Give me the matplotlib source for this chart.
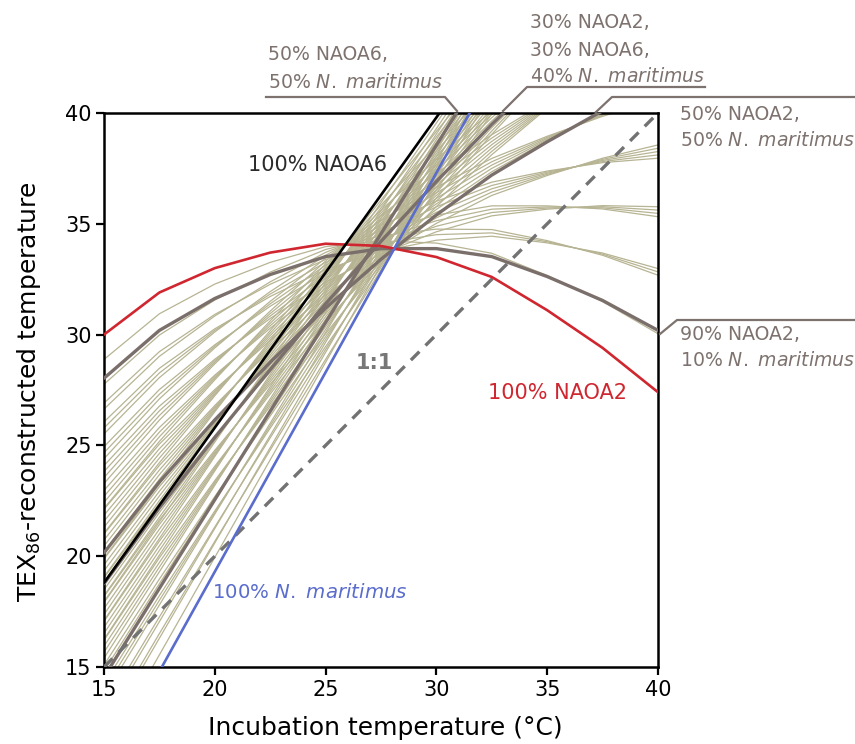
import matplotlib
matplotlib.use("Agg")
import matplotlib.pyplot as plt
from matplotlib.lines import Line2D

# ---------------- data ----------------
incubation_temp = [15, 17.5, 20, 22.5, 25, 27.5, 30, 32.5, 35, 37.5, 40]
axis_ticks = [15, 20, 25, 30, 35, 40]

red_naoa2 = [30.0, 31.9, 33.0, 33.7, 34.1, 34.0, 33.5, 32.6, 31.1, 29.4, 27.4]
black_naoa6 = [18.8, 22.3, 25.8, 29.3, 32.8, 36.3, 39.8, 43.3, 46.8, 50.3, 53.8]
blue_nmar = [10.3, 14.8, 19.3, 23.8, 28.3, 32.8, 37.3, 41.8, 46.3, 50.8, 55.3]
one_to_one = [15, 40]

# highlighted (grey) mixtures
gray_90naoa2_10nmar = [28.03, 30.19, 31.63, 32.71, 33.52, 33.88, 33.88, 33.52, 32.62, 31.54, 30.19]
gray_50naoa2_50nmar = [20.15, 23.35, 26.15, 28.75, 31.2, 33.4, 35.4, 37.2, 38.7, 40.1, 41.35]
gray_30_30_40 = [18.76, 22.18, 25.36, 28.42, 31.39, 34.21, 36.91, 39.49, 41.89, 44.23, 46.48]
gray_50naoa6_50nmar = [14.55, 18.55, 22.55, 26.55, 30.55, 34.55, 38.55, 42.55, 46.55, 50.55, 54.55]

# other mixtures (thin tan lines), grouped by NAOA2 share
mix_naoa2_90 = [
    [28.88, 30.94, 32.28, 33.26, 33.97, 34.23, 34.13, 33.67, 32.67, 31.49, 30.04],
]
mix_naoa2_80 = [
    [26.06, 28.48, 30.26, 31.72, 32.94, 33.76, 34.26, 34.44, 34.14, 33.68, 32.98],
    [26.91, 29.23, 30.91, 32.27, 33.39, 34.11, 34.51, 34.59, 34.19, 33.63, 32.83],
    [27.76, 29.98, 31.56, 32.82, 33.84, 34.46, 34.76, 34.74, 34.24, 33.58, 32.68],
]
mix_naoa2_70 = [
    [24.09, 26.77, 28.89, 30.73, 32.36, 33.64, 34.64, 35.36, 35.66, 35.82, 35.77],
    [24.94, 27.52, 29.54, 31.28, 32.81, 33.99, 34.89, 35.51, 35.71, 35.77, 35.62],
    [25.79, 28.27, 30.19, 31.83, 33.26, 34.34, 35.14, 35.66, 35.76, 35.72, 35.47],
    [26.64, 29.02, 30.84, 32.38, 33.71, 34.69, 35.39, 35.81, 35.81, 35.67, 35.32],
]
mix_naoa2_60 = [
    [22.12, 25.06, 27.52, 29.74, 31.78, 33.52, 35.02, 36.28, 37.18, 37.96, 38.56],
    [22.97, 25.81, 28.17, 30.29, 32.23, 33.87, 35.27, 36.43, 37.23, 37.91, 38.41],
    [23.82, 26.56, 28.82, 30.84, 32.68, 34.22, 35.52, 36.58, 37.28, 37.86, 38.26],
    [24.67, 27.31, 29.47, 31.39, 33.13, 34.57, 35.77, 36.73, 37.33, 37.81, 38.11],
    [25.52, 28.06, 30.12, 31.94, 33.58, 34.92, 36.02, 36.88, 37.38, 37.76, 37.96],
]
mix_naoa2_50 = [
    [21.0, 24.1, 26.8, 29.3, 31.65, 33.75, 35.65, 37.35, 38.75, 40.05, 41.2],
    [21.85, 24.85, 27.45, 29.85, 32.1, 34.1, 35.9, 37.5, 38.8, 40.0, 41.05],
    [22.7, 25.6, 28.1, 30.4, 32.55, 34.45, 36.15, 37.65, 38.85, 39.95, 40.9],
    [23.55, 26.35, 28.75, 30.95, 33.0, 34.8, 36.4, 37.8, 38.9, 39.9, 40.75],
    [24.4, 27.1, 29.4, 31.5, 33.45, 35.15, 36.65, 37.95, 38.95, 39.85, 40.6],
]
mix_naoa2_40 = [
    [18.18, 21.64, 24.78, 27.76, 30.62, 33.28, 35.78, 38.12, 40.22, 42.24, 44.14],
    [19.03, 22.39, 25.43, 28.31, 31.07, 33.63, 36.03, 38.27, 40.27, 42.19, 43.99],
    [19.88, 23.14, 26.08, 28.86, 31.52, 33.98, 36.28, 38.42, 40.32, 42.14, 43.84],
    [20.73, 23.89, 26.73, 29.41, 31.97, 34.33, 36.53, 38.57, 40.37, 42.09, 43.69],
    [21.58, 24.64, 27.38, 29.96, 32.42, 34.68, 36.78, 38.72, 40.42, 42.04, 43.54],
    [22.43, 25.39, 28.03, 30.51, 32.87, 35.03, 37.03, 38.87, 40.47, 41.99, 43.39],
    [23.28, 26.14, 28.68, 31.06, 33.32, 35.38, 37.28, 39.02, 40.52, 41.94, 43.24],
]
mix_naoa2_30 = [
    [16.21, 19.93, 23.41, 26.77, 30.04, 33.16, 36.16, 39.04, 41.74, 44.38, 46.93],
    [17.06, 20.68, 24.06, 27.32, 30.49, 33.51, 36.41, 39.19, 41.79, 44.33, 46.78],
    [17.91, 21.43, 24.71, 27.87, 30.94, 33.86, 36.66, 39.34, 41.84, 44.28, 46.63],
    [19.61, 22.93, 26.01, 28.97, 31.84, 34.56, 37.16, 39.64, 41.94, 44.18, 46.33],
    [20.46, 23.68, 26.66, 29.52, 32.29, 34.91, 37.41, 39.79, 41.99, 44.13, 46.18],
    [21.31, 24.43, 27.31, 30.07, 32.74, 35.26, 37.66, 39.94, 42.04, 44.08, 46.03],
    [22.16, 25.18, 27.96, 30.62, 33.19, 35.61, 37.91, 40.09, 42.09, 44.03, 45.88],
]
mix_naoa2_20 = [
    [14.24, 18.22, 22.04, 25.78, 29.46, 33.04, 36.54, 39.96, 43.26, 46.52, 49.72],
    [15.09, 18.97, 22.69, 26.33, 29.91, 33.39, 36.79, 40.11, 43.31, 46.47, 49.57],
    [15.94, 19.72, 23.34, 26.88, 30.36, 33.74, 37.04, 40.26, 43.36, 46.42, 49.42],
    [16.79, 20.47, 23.99, 27.43, 30.81, 34.09, 37.29, 40.41, 43.41, 46.37, 49.27],
    [17.64, 21.22, 24.64, 27.98, 31.26, 34.44, 37.54, 40.56, 43.46, 46.32, 49.12],
    [18.49, 21.97, 25.29, 28.53, 31.71, 34.79, 37.79, 40.71, 43.51, 46.27, 48.97],
    [19.34, 22.72, 25.94, 29.08, 32.16, 35.14, 38.04, 40.86, 43.56, 46.22, 48.82],
    [20.19, 23.47, 26.59, 29.63, 32.61, 35.49, 38.29, 41.01, 43.61, 46.17, 48.67],
    [21.04, 24.22, 27.24, 30.18, 33.06, 35.84, 38.54, 41.16, 43.66, 46.12, 48.52],
]
mix_naoa2_10 = [
    [12.27, 16.51, 20.67, 24.79, 28.88, 32.92, 36.92, 40.88, 44.78, 48.66, 52.51],
    [13.12, 17.26, 21.32, 25.34, 29.33, 33.27, 37.17, 41.03, 44.83, 48.61, 52.36],
    [13.97, 18.01, 21.97, 25.89, 29.78, 33.62, 37.42, 41.18, 44.88, 48.56, 52.21],
    [14.82, 18.76, 22.62, 26.44, 30.23, 33.97, 37.67, 41.33, 44.93, 48.51, 52.06],
    [15.67, 19.51, 23.27, 26.99, 30.68, 34.32, 37.92, 41.48, 44.98, 48.46, 51.91],
    [16.52, 20.26, 23.92, 27.54, 31.13, 34.67, 38.17, 41.63, 45.03, 48.41, 51.76],
    [17.37, 21.01, 24.57, 28.09, 31.58, 35.02, 38.42, 41.78, 45.08, 48.36, 51.61],
    [18.22, 21.76, 25.22, 28.64, 32.03, 35.37, 38.67, 41.93, 45.13, 48.31, 51.46],
    [19.07, 22.51, 25.87, 29.19, 32.48, 35.72, 38.92, 42.08, 45.18, 48.26, 51.31],
    [19.92, 23.26, 26.52, 29.74, 32.93, 36.07, 39.17, 42.23, 45.23, 48.21, 51.16],
]
mix_naoa2_00 = [
    [11.15, 15.55, 19.95, 24.35, 28.75, 33.15, 37.55, 41.95, 46.35, 50.75, 55.15],
    [12.0, 16.3, 20.6, 24.9, 29.2, 33.5, 37.8, 42.1, 46.4, 50.7, 55.0],
    [12.85, 17.05, 21.25, 25.45, 29.65, 33.85, 38.05, 42.25, 46.45, 50.65, 54.85],
    [13.7, 17.8, 21.9, 26.0, 30.1, 34.2, 38.3, 42.4, 46.5, 50.6, 54.7],
    [15.4, 19.3, 23.2, 27.1, 31.0, 34.9, 38.8, 42.7, 46.6, 50.5, 54.4],
    [16.25, 20.05, 23.85, 27.65, 31.45, 35.25, 39.05, 42.85, 46.65, 50.45, 54.25],
    [17.1, 20.8, 24.5, 28.2, 31.9, 35.6, 39.3, 43.0, 46.7, 50.4, 54.1],
    [17.95, 21.55, 25.15, 28.75, 32.35, 35.95, 39.55, 43.15, 46.75, 50.35, 53.95],
]

# ---------------- styling ----------------
FONT = "DejaVu Sans"
plt.rcParams["font.family"] = [FONT]
plt.rcParams["mathtext.fontset"] = "dejavusans"

TAN = "#b7b493"
GREY = "#7b6f6b"
NOTE = "#7d726e"
RED = "#d0262f"
BLUE = "#5a6ccc"
DASH = "#727272"

W, H = 855, 744
fig = plt.figure(figsize=(W / 100, H / 100), dpi=100)
L, R, T, B = 104, 658, 113, 667
ax = fig.add_axes([L / W, 1 - B / H, (R - L) / W, (B - T) / H])

def fx(px):
    return px / W

def fy(py):
    return 1 - py / H

for group in [mix_naoa2_90, mix_naoa2_80, mix_naoa2_70, mix_naoa2_60, mix_naoa2_50,
              mix_naoa2_40, mix_naoa2_30, mix_naoa2_20, mix_naoa2_10, mix_naoa2_00]:
    for ys in group:
        ax.plot(incubation_temp, ys, color=TAN, lw=0.9, zorder=2,
                solid_joinstyle="round")

for ys in [gray_90naoa2_10nmar, gray_50naoa2_50nmar, gray_30_30_40, gray_50naoa6_50nmar]:
    ax.plot(incubation_temp, ys, color=GREY, lw=2.4, zorder=3,
            solid_capstyle="round", solid_joinstyle="round")

ax.plot(one_to_one, one_to_one, color=DASH, lw=2.4, linestyle=(0, (3.6, 2.6)), zorder=4)
ax.plot(incubation_temp, red_naoa2, color=RED, lw=1.9, zorder=5, solid_joinstyle="round")
ax.plot(incubation_temp, blue_nmar, color=BLUE, lw=1.9, zorder=5)
ax.plot(incubation_temp, black_naoa6, color="black", lw=1.9, zorder=6)

ax.set_xlim(15, 40)
ax.set_ylim(15, 40)
ax.set_xticks(axis_ticks)
ax.set_yticks(axis_ticks)
ax.tick_params(direction="out", length=6, width=1.6, labelsize=15, pad=3, colors="black")
for s in ax.spines.values():
    s.set_linewidth(1.8)

fig.text(fx(385), fy(728), "Incubation temperature (°C)", ha="center", va="center",
         fontsize=18)
fig.text(fx(29), fy(392), "TEX$_{86}$-reconstructed temperature", ha="center", va="center",
         rotation=90, fontsize=18)

NM = r"$\mathit{N.}$ $\mathit{maritimus}$"

# in-plot labels
fig.text(fx(248), fy(165), "100% NAOA6", ha="left", va="center", fontsize=15, color="#2b2b2b")
fig.text(fx(374), fy(363), "1:1", ha="center", va="center", fontsize=15, color="#777777",
         fontweight="bold")
fig.text(fx(488), fy(393), "100% NAOA2", ha="left", va="center", fontsize=15, color=RED)
fig.text(fx(212), fy(592), "100% " + NM, ha="left", va="center",
         fontsize=14.2, color=BLUE)

# annotation labels with leader lines
notes = [
    (268, [55, 82], ["50% NAOA6,", "50% " + NM]),
    (530, [22, 50, 76], ["30% NAOA2,", "30% NAOA6,", "40% " + NM]),
    (680, [114, 141], ["50% NAOA2,", "50% " + NM]),
    (680, [335, 361], ["90% NAOA2,", "10% " + NM]),
]
for x0, ys, texts in notes:
    for yy, t in zip(ys, texts):
        fig.text(fx(x0), fy(yy), t, ha="left", va="center", fontsize=13.6, color=NOTE)

leaders = [
    ([266, 445, 457], [97, 97, 111]),
    ([705, 527, 503], [87, 87, 111]),
    ([596, 612, 855], [112, 97, 97]),
    ([660, 677, 855], [334, 320, 320]),
]
for xs, ys in leaders:
    fig.add_artist(Line2D([fx(v) for v in xs], [fy(v) for v in ys],
                          transform=fig.transFigure, color=NOTE, lw=1.6))

fig.savefig("out.png", dpi=100)
